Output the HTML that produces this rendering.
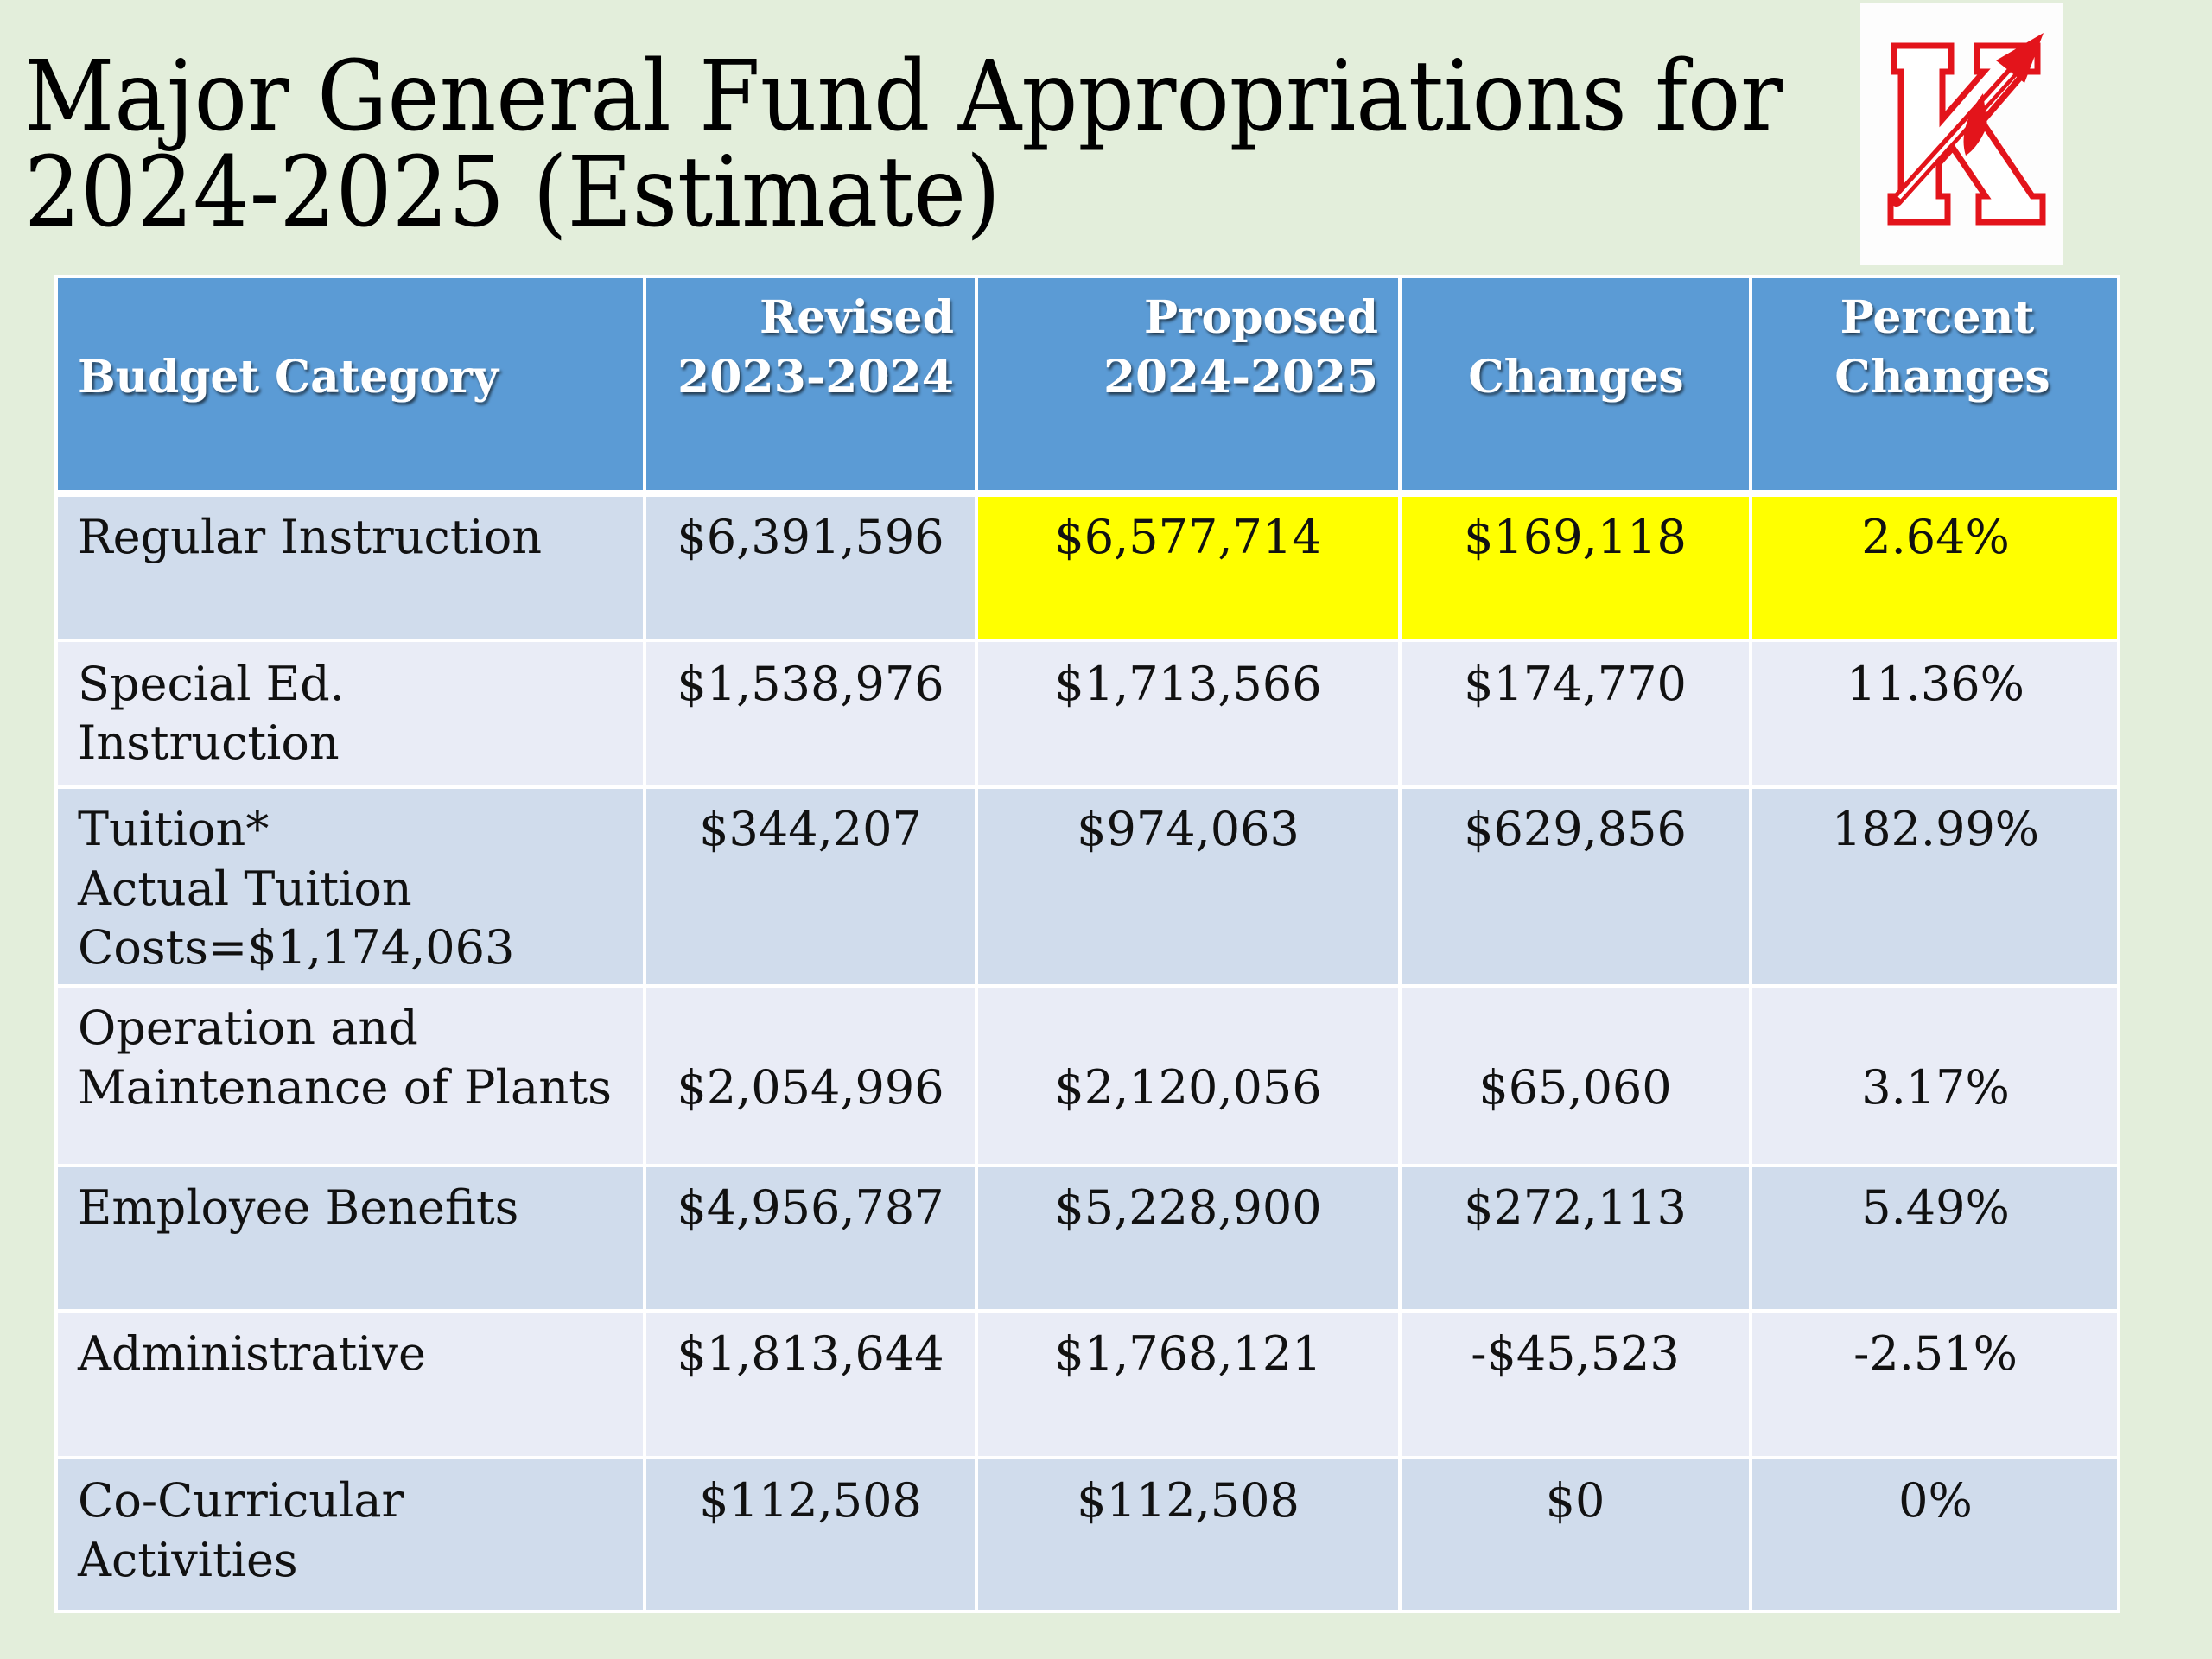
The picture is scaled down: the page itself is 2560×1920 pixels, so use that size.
<!DOCTYPE html>
<html><head><meta charset="utf-8"><style>
html,body{margin:0;padding:0;background:#e3eedb;}
svg{display:block}
.t{font-family:"DejaVu Serif","Liberation Serif",serif;font-size:54px;fill:#111;}
.h{font-family:"DejaVu Serif","Liberation Serif",serif;font-size:52px;font-weight:bold;fill:#fff;}
.ti{font-family:"DejaVu Serif","Liberation Serif",serif;font-size:112px;fill:#000;}
</style></head><body>
<svg width="2560" height="1920" viewBox="0 0 2560 1920">
<defs><filter id="sh" x="-5%" y="-20%" width="110%" height="140%"><feDropShadow dx="2" dy="3" stdDeviation="1.5" flood-color="#000" flood-opacity="0.6"/></filter></defs>
<rect width="2560" height="1920" fill="#e3eedb"/>
<g>
<text class="ti" x="28" y="150" textLength="2035" lengthAdjust="spacingAndGlyphs">Major General Fund Appropriations for</text>
<text class="ti" x="28" y="261" textLength="1130" lengthAdjust="spacingAndGlyphs">2024-2025 (Estimate)</text>
</g>
<g>
<rect x="2153" y="4" width="235" height="303" fill="#fdfdfd"/>
<path d="M2192,53 h66 v30 h-10 v55 l48,-55 h-8 v-30 h70 v30 h-14 l-50,58 l58,86 h12 v30 h-74 v-30 h8 l-38,-56 l-16,18 v38 h10 v30 h-66 v-30 h12 v-144 h-8 z" fill="#fff" stroke="#e3141b" stroke-width="7"/>
<line x1="2195" y1="232" x2="2350" y2="60" stroke="#e3141b" stroke-width="14" stroke-linecap="round"/>
<line x1="2198" y1="229" x2="2340" y2="72" stroke="#fff" stroke-width="4"/>
<path d="M2310,70 l55,-32 l-22,58 z" fill="#e3141b"/>
<path d="M2295,108 q-30,40 -20,72 q15,-10 25,-35 z" fill="#e3141b"/>
</g>
<g>
<rect x="65" y="320" width="2387" height="248" fill="#5b9bd5"/>
<rect x="65" y="575" width="2387" height="166" fill="#d0dcec"/>
<rect x="1130" y="575" width="1322" height="166" fill="#ffff00"/>
<rect x="65" y="741" width="2387" height="170" fill="#e9ecf6"/>
<rect x="65" y="911" width="2387" height="230" fill="#d0dcec"/>
<rect x="65" y="1141" width="2387" height="208" fill="#e9ecf6"/>
<rect x="65" y="1349" width="2387" height="168" fill="#d0dcec"/>
<rect x="65" y="1517" width="2387" height="170" fill="#e9ecf6"/>
<rect x="65" y="1687" width="2387" height="178" fill="#d0dcec"/>
<g stroke="#fff" stroke-width="4" fill="none">
<rect x="65" y="320" width="2387" height="1545"/>
<line x1="65" y1="571" x2="2452" y2="571" stroke-width="8"/>
<line x1="65" y1="741" x2="2452" y2="741"/>
<line x1="65" y1="911" x2="2452" y2="911"/>
<line x1="65" y1="1141" x2="2452" y2="1141"/>
<line x1="65" y1="1349" x2="2452" y2="1349"/>
<line x1="65" y1="1517" x2="2452" y2="1517"/>
<line x1="65" y1="1687" x2="2452" y2="1687"/>
<line x1="746" y1="320" x2="746" y2="1865"/>
<line x1="1130" y1="320" x2="1130" y2="1865"/>
<line x1="1620" y1="320" x2="1620" y2="1865"/>
<line x1="2026" y1="320" x2="2026" y2="1865"/>
</g>
<g filter="url(#sh)">
<text class="h" x="90" y="454" textLength="487" lengthAdjust="spacingAndGlyphs">Budget Category</text>
<text class="h" x="1104" y="385" text-anchor="end">Revised</text>
<text class="h" x="1104" y="454" text-anchor="end" textLength="320" lengthAdjust="spacingAndGlyphs">2023-2024</text>
<text class="h" x="1595" y="385" text-anchor="end">Proposed</text>
<text class="h" x="1595" y="454" text-anchor="end" textLength="318" lengthAdjust="spacingAndGlyphs">2024-2025</text>
<text class="h" x="1824" y="454" text-anchor="middle">Changes</text>
<text class="h" x="2242" y="385" text-anchor="middle">Percent</text>
<text class="h" x="2248" y="454" text-anchor="middle">Changes</text>
</g>
<g>
<text class="t" x="90" y="640">Regular Instruction</text>
<text class="t" x="938" y="640" text-anchor="middle">$6,391,596</text>
<text class="t" x="1375" y="640" text-anchor="middle">$6,577,714</text>
<text class="t" x="1823" y="640" text-anchor="middle">$169,118</text>
<text class="t" x="2240" y="640" text-anchor="middle">2.64%</text>

<text class="t" x="90" y="810">Special Ed.</text>
<text class="t" x="90" y="878">Instruction</text>
<text class="t" x="938" y="810" text-anchor="middle">$1,538,976</text>
<text class="t" x="1375" y="810" text-anchor="middle">$1,713,566</text>
<text class="t" x="1823" y="810" text-anchor="middle">$174,770</text>
<text class="t" x="2240" y="810" text-anchor="middle">11.36%</text>

<text class="t" x="90" y="978">Tuition*</text>
<text class="t" x="90" y="1047">Actual Tuition</text>
<text class="t" x="90" y="1115">Costs=$1,174,063</text>
<text class="t" x="938" y="978" text-anchor="middle">$344,207</text>
<text class="t" x="1375" y="978" text-anchor="middle">$974,063</text>
<text class="t" x="1823" y="978" text-anchor="middle">$629,856</text>
<text class="t" x="2240" y="978" text-anchor="middle">182.99%</text>

<text class="t" x="90" y="1208">Operation and</text>
<text class="t" x="90" y="1277" textLength="618" lengthAdjust="spacingAndGlyphs">Maintenance of Plants</text>
<text class="t" x="938" y="1277" text-anchor="middle">$2,054,996</text>
<text class="t" x="1375" y="1277" text-anchor="middle">$2,120,056</text>
<text class="t" x="1823" y="1277" text-anchor="middle">$65,060</text>
<text class="t" x="2240" y="1277" text-anchor="middle">3.17%</text>

<text class="t" x="90" y="1416">Employee Benefits</text>
<text class="t" x="938" y="1416" text-anchor="middle">$4,956,787</text>
<text class="t" x="1375" y="1416" text-anchor="middle">$5,228,900</text>
<text class="t" x="1823" y="1416" text-anchor="middle">$272,113</text>
<text class="t" x="2240" y="1416" text-anchor="middle">5.49%</text>

<text class="t" x="90" y="1585">Administrative</text>
<text class="t" x="938" y="1585" text-anchor="middle">$1,813,644</text>
<text class="t" x="1375" y="1585" text-anchor="middle">$1,768,121</text>
<text class="t" x="1823" y="1585" text-anchor="middle">-$45,523</text>
<text class="t" x="2240" y="1585" text-anchor="middle">-2.51%</text>

<text class="t" x="90" y="1755">Co-Curricular</text>
<text class="t" x="90" y="1824">Activities</text>
<text class="t" x="938" y="1755" text-anchor="middle">$112,508</text>
<text class="t" x="1375" y="1755" text-anchor="middle">$112,508</text>
<text class="t" x="1823" y="1755" text-anchor="middle">$0</text>
<text class="t" x="2240" y="1755" text-anchor="middle">0%</text>
</g>
</g>
</svg>
</body></html>
